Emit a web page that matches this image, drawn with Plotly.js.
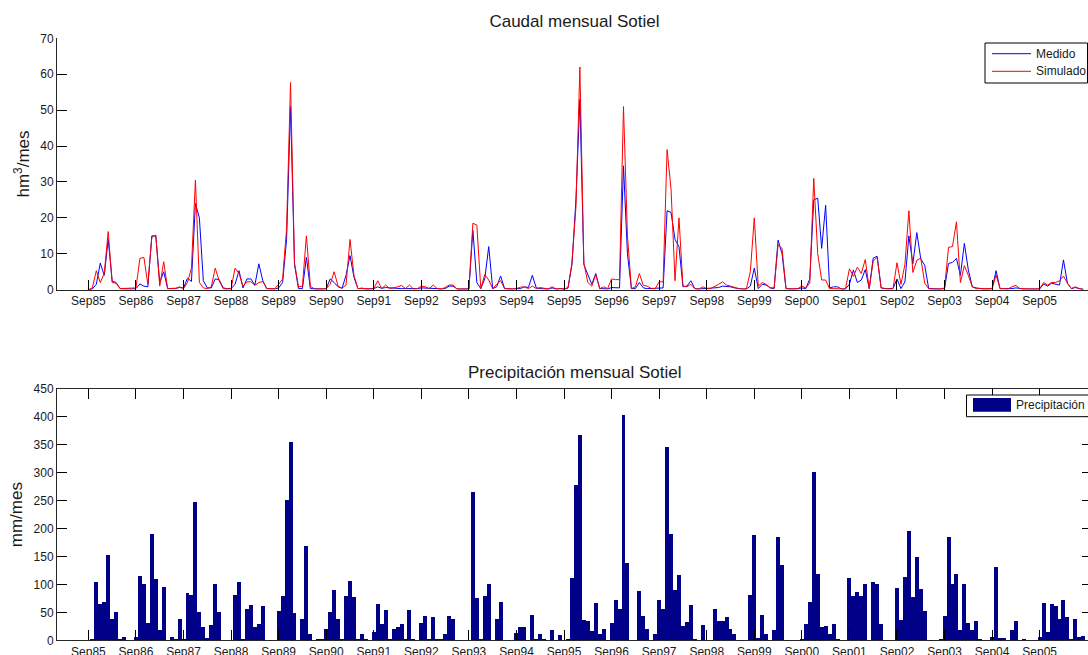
<!DOCTYPE html>
<html>
<head>
<meta charset="utf-8">
<script src="https://cdn.plot.ly/plotly-3.0.1.min.js"></script>
<style>
html,body{margin:0;padding:0;overflow:hidden;background:#fff;}
#chart{width:1096px;height:655px;}
</style>
</head>
<body>
<div id="chart"></div>
<script>
// Tick labels (one per hydrological year, September)
const tickLabels = ['Sep85','Sep86','Sep87','Sep88','Sep89','Sep90','Sep91','Sep92','Sep93','Sep94',
                    'Sep95','Sep96','Sep97','Sep98','Sep99','Sep00','Sep01','Sep02','Sep03','Sep04','Sep05'];

// Monthly flow, measured (hm3/mes), from Sep85 onward
const medido = [
  0,0.2,1.5,7.4,4,14,2.4,2,0.3,0.2,0.2,0.2,
  0.3,1.6,1.0,0.8,15,15,2,5,0.3,0.3,0.4,0.6,
  0.5,3.2,2.3,24,20,2.5,0.5,0.5,3,2.8,0.5,0.3,
  0.3,1.5,5.3,0.5,3,3,1.3,7.2,2.5,0.3,0.2,0.2,
  0.5,2,14,51,7,0.3,0.3,9,0.3,0.2,0.2,0.2,
  0.3,3,2,0.8,0.4,4,9.5,3.5,0.3,0.4,0.2,0.2,
  0.3,0.8,0.4,0.6,0.5,0.3,0.3,0.3,0.3,0.3,0.2,0.3,
  0.5,0.5,0.3,0.3,0.3,0.2,0.3,1,1,0.2,0.2,0.2,
  0.2,16.5,2,0.3,3,12,0.3,0.8,3.8,0.3,0.2,0.2,
  0.3,0.3,0.8,0.6,4,0.5,0.3,0.3,0.2,0.5,0.2,0.3,
  0.2,0.5,7,25,53,7,4,1.5,4.5,0.3,0.3,0.2,
  0.6,0.5,0.5,34.5,10,0.3,0.3,2,0.5,0.3,0.3,0.3,
  0.5,0.5,22,21.5,14,12,0.8,1,2.5,0.3,0.2,0.3,
  0.3,0.3,0.5,0.6,1,1,0.8,0.5,0.3,0.2,0.2,1,
  6,0.3,1.5,1.3,0.5,0.3,13.8,10,0.3,0.2,0.2,0.3,
  0.5,0.3,3,25,25.5,11.5,23.5,0.5,0.8,0.8,0.2,0.2,
  1.5,5.5,2,2.7,5.6,0.3,8.8,9.3,0.5,0.3,0.2,0.3,
  3,0.3,2.2,15,7.2,15.9,8.6,6.8,0.3,0.2,0.2,0.2,
  0.3,7.3,7.6,8.7,4,12.9,5.5,0.8,0.5,0.3,0.2,0.2,
  0.3,5.3,0.3,0.3,0.2,0.3,0.5,0.3,0.2,0.2,0.2,0.2,
  0.2,1.6,1,1.8,1.6,1.3,8.3,1.8,0.3,0.6,0.3,0.1
];

// Monthly flow, simulated (hm3/mes)
const simulado = [
  0,0.5,5.3,2,4.5,16.2,2,1.8,0.3,0.3,0.3,0.3,
  0.5,8.7,9,1.5,14.5,15.2,1,7.8,0.3,0.3,0.3,0.8,
  0.3,2,6,30.5,2,0.5,0.3,0.8,6,2.5,0.3,0.2,
  0.3,6,4.5,1,2.2,2.2,1.2,2,2.3,0.3,0.2,0.3,
  1.5,3,17,57.7,7.5,0.8,1,15,1,0.2,0.2,0.2,
  0.3,1.5,5,1,0.4,1.3,14,4,0.3,0.4,0.2,0.2,
  0.3,2.5,0.3,1.3,0.3,0.5,0.8,1.2,0.3,1.3,0.2,0.3,
  1,0.8,0.3,1.3,0.3,0.2,0.6,1.3,1.3,0.2,0.2,0.2,
  0.2,18.5,18,0.3,4.2,2.7,0.3,1.5,2.5,0.3,0.2,0.2,
  0.3,0.7,0.8,0.3,1,0.3,0.6,0.3,0.2,0.8,0.2,0.3,
  0.2,0.5,7.5,23,62,7.5,2,1,4.2,0.3,0.8,0.3,
  3,2.8,2.8,51,15,0.3,0.8,4.5,1.2,1,0.3,0.3,
  2.2,2.2,39,28,2.5,20,1,0.8,1.5,0.3,0.2,0.8,
  0.3,0.3,0.8,1.5,2.2,1.3,1,0.6,0.3,0.2,0.2,5,
  20,1,2,1.5,0.5,0.5,12.5,11.5,0.3,0.2,0.2,0.3,
  1,0.5,1.8,31,10,2.7,2.7,0.3,0.3,0.3,0.2,0.2,
  5.8,3.7,6.3,4.5,8.4,0.3,8,9,0.5,0.3,0.2,0.3,
  7.5,1.5,7,22,4.8,8.2,8.8,1.8,0.3,0.2,0.2,0.2,
  0.5,11.8,12,18.9,2,6.7,4,0.8,0.3,0.3,0.2,0.2,
  0.3,4.1,0.3,0.3,0.2,0.8,1.2,0.3,0.2,0.2,0.2,0.2,
  0.3,2,1.3,2,2,2.5,3.8,1.8,0.3,0.8,0.3,0.1
];

// Monthly precipitation (mm/mes)
const precipitacion = [
  0,3,104,65,68,153,38,50,3,6,0,0,
  6,115,100,31,190,110,18,96,0,6,2,38,
  2,84,82,248,50,24,4,27,101,50,0,0,
  0,82,105,2,56,64,23,30,62,0,0,0,
  52,79,251,355,48,0,39,168,12,0,2,2,
  20,51,90,39,2,79,107,77,2,12,2,0,
  14,65,29,54,2,20,23,29,2,54,2,0,
  31,44,2,42,2,2,12,44,39,0,0,0,
  0,265,75,2,79,100,0,39,69,0,0,0,
  13,23,23,0,46,2,12,2,0,18,0,10,
  0,2,111,278,367,37,35,16,67,12,21,0,
  31,72,56,403,138,0,0,88,44,20,0,12,
  72,56,347,191,90,117,26,33,63,2,0,27,
  0,0,56,35,35,42,20,12,0,0,0,81,
  189,5,46,12,0,18,185,134,0,0,0,0,
  2,29,69,301,119,24,26,12,29,2,0,0,
  111,79,86,79,100,0,104,100,29,0,0,0,
  94,37,113,195,77,149,92,52,0,0,0,2,
  44,185,100,119,18,101,31,18,35,2,0,0,
  6,132,5,5,0,18,35,0,2,0,0,0,
  6,67,14,65,62,39,73,41,2,39,6,7
];

// month index (0 = Sep85)
const months = precipitacion.map((_, i) => i);
const tickVals = tickLabels.map((_, i) => i * 12);

const FONT = 'Liberation Sans, Arial, Helvetica, sans-serif';
const TXT = '#1a1a1a';
const AX = '#262626';

// helpers for paper coordinates (plot area x: 57..1092 px, y: 0..655 px)
const L = 57, R = 4, W = 1096, H = 655;
const PW = W - L - R;
const xp = px => (px - L) / PW;
const yp = py => 1 - py / H;

const traces = [
  {x: months, y: medido, type: 'scatter', mode: 'lines', name: 'Medido',
   line: {color: '#0000ff', width: 1}, xaxis: 'x', yaxis: 'y', showlegend: false, hoverinfo: 'x+y'},
  {x: months, y: simulado, type: 'scatter', mode: 'lines', name: 'Simulado',
   line: {color: '#ff0000', width: 1}, xaxis: 'x', yaxis: 'y', showlegend: false},
  {x: months, y: precipitacion, type: 'bar', name: 'Precipitación',
   marker: {color: '#000088', line: {width: 0}}, xaxis: 'x2', yaxis: 'y2', showlegend: false}
];

const xRange = [-7.92, 253.2];
const commonX = {
  range: xRange, tickmode: 'array', tickvals: tickVals, ticktext: tickLabels,
  ticks: 'inside', ticklen: 10, tickwidth: 1, tickcolor: '#000',
  showline: true, linecolor: AX, linewidth: 1, showgrid: false, zeroline: false,
  tickfont: {family: FONT, size: 12, color: TXT}, fixedrange: true
};
const commonY = {
  ticks: 'inside', ticklen: 10, tickwidth: 1, tickcolor: '#000',
  showline: true, linecolor: AX, linewidth: 1, showgrid: false, zeroline: false,
  tickfont: {family: FONT, size: 12, color: TXT}, fixedrange: true
};

const layout = {
  width: W, height: H,
  margin: {l: L, r: R, t: 0, b: 0},
  paper_bgcolor: '#fff', plot_bgcolor: 'rgba(0,0,0,0)',
  bargap: 0,
  title: {text: 'Caudal mensual Sotiel', font: {family: FONT, size: 17, color: TXT},
          xref: 'paper', x: 0.5, xanchor: 'center', yref: 'container', y: yp(21.5), yanchor: 'middle'},
  xaxis: Object.assign({}, commonX, {anchor: 'y', domain: [0, 1], mirror: false}),
  yaxis: Object.assign({}, commonY, {anchor: 'x', domain: [yp(289.7), yp(38.3)], range: [0, 70], dtick: 10,
          mirror: false,
          title: {text: 'hm<sup>3</sup>/mes', font: {family: FONT, size: 17, color: TXT}, standoff: 6}}),
  xaxis2: Object.assign({}, commonX, {anchor: 'y2', domain: [0, 1], mirror: 'ticks'}),
  yaxis2: Object.assign({}, commonY, {anchor: 'x2', domain: [yp(640.3), yp(389)], range: [0, 450], dtick: 50,
          mirror: 'ticks',
          title: {text: 'mm/mes', font: {family: FONT, size: 17, color: TXT}, standoff: 6}}),
  annotations: [
    {text: 'Precipitación mensual Sotiel', xref: 'paper', yref: 'paper', x: 0.5, y: yp(372.5),
     xanchor: 'center', yanchor: 'middle', showarrow: false, font: {family: FONT, size: 17, color: TXT}},
    {text: 'Medido', xref: 'paper', yref: 'paper', x: xp(1034), y: yp(53.7), xanchor: 'left', yanchor: 'middle',
     showarrow: false, font: {family: FONT, size: 12, color: TXT}},
    {text: 'Simulado', xref: 'paper', yref: 'paper', x: xp(1034), y: yp(71.3), xanchor: 'left', yanchor: 'middle',
     showarrow: false, font: {family: FONT, size: 12, color: TXT}},
    {text: 'Precipitación', xref: 'paper', yref: 'paper', x: xp(1014), y: yp(405.5), xanchor: 'left', yanchor: 'middle',
     showarrow: false, font: {family: FONT, size: 12, color: TXT}}
  ],
  shapes: [
    // legend box (top)
    {type: 'rect', xref: 'paper', yref: 'paper', x0: xp(985), x1: xp(1087.5), y0: yp(83), y1: yp(43),
     line: {color: '#000', width: 1}, fillcolor: '#fff', layer: 'above'},
    {type: 'line', xref: 'paper', yref: 'paper', x0: xp(992), x1: xp(1031), y0: yp(53.7), y1: yp(53.7),
     line: {color: '#0000ff', width: 1}},
    {type: 'line', xref: 'paper', yref: 'paper', x0: xp(992), x1: xp(1031), y0: yp(71.3), y1: yp(71.3),
     line: {color: '#ff0000', width: 1}},
    // legend box (bottom)
    {type: 'rect', xref: 'paper', yref: 'paper', x0: xp(966.5), x1: xp(1100), y0: yp(416.7), y1: yp(395),
     line: {color: '#000', width: 1}, fillcolor: '#fff', layer: 'above'},
    {type: 'rect', xref: 'paper', yref: 'paper', x0: xp(973), x1: xp(1011), y0: yp(411.7), y1: yp(398),
     line: {width: 0}, fillcolor: '#000088', layer: 'above'}
  ]
};

Plotly.newPlot('chart', traces, layout, {displayModeBar: false, staticPlot: true});
</script>
</body>
</html>
